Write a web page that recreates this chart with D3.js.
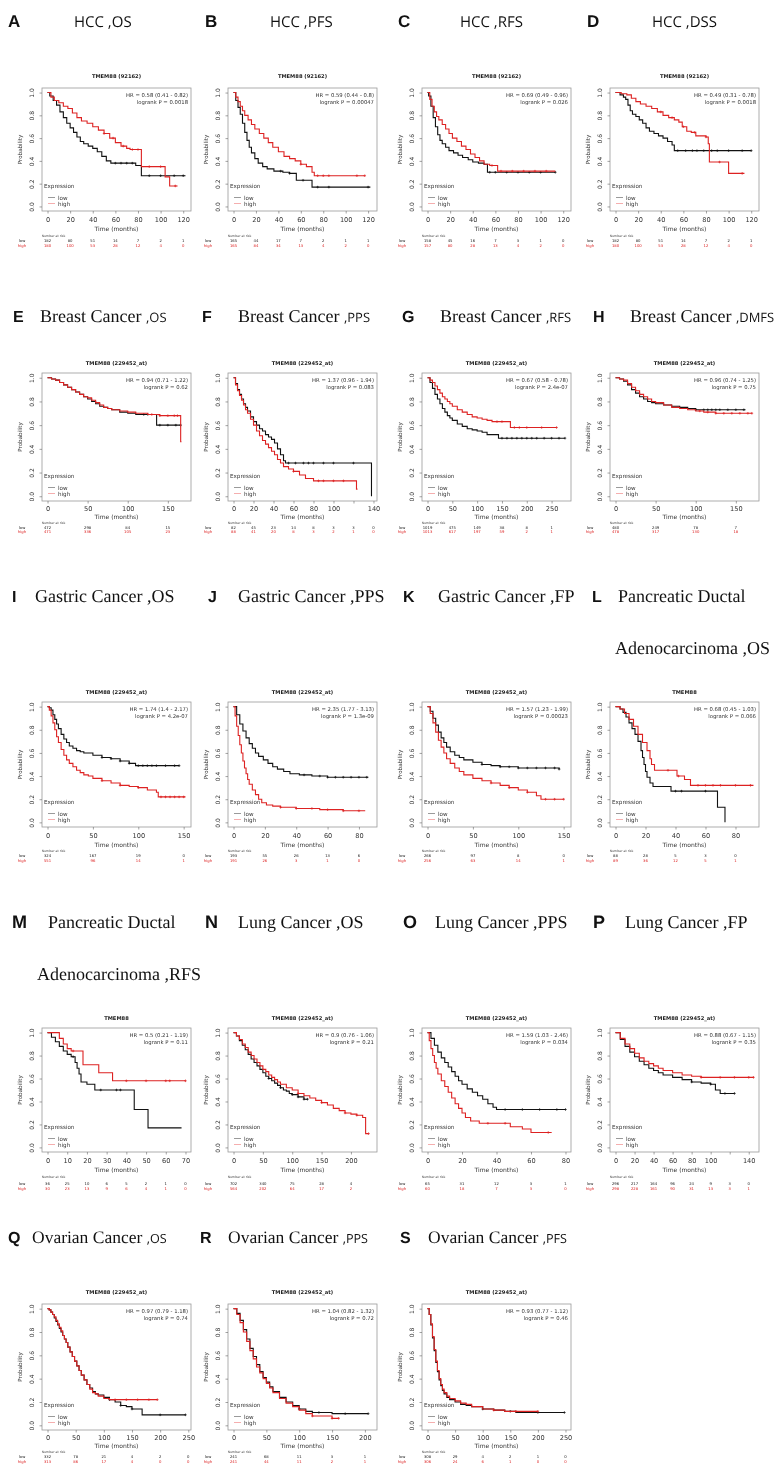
<!DOCTYPE html>
<html><head><meta charset="utf-8">
<script src="https://cdn.jsdelivr.net/npm/d3@7"></script>
<style>body{margin:0;background:#fff}svg{display:block;will-change:transform}text{text-rendering:geometricPrecision}</style>
</head><body>
<script>
const panelLetters=["A","B","C","D","E","F","G","H","I","J","K","L","M","N","O","P","Q","R","S"];
const panelTitles=[["HCC ,OS"],["HCC ,PFS"],["HCC ,RFS"],["HCC ,DSS"],
["Breast Cancer ,OS"],["Breast Cancer ,PPS"],["Breast Cancer ,RFS"],["Breast Cancer ,DMFS"],
["Gastric Cancer ,OS"],["Gastric Cancer ,PPS"],["Gastric Cancer ,FP"],["Pancreatic Ductal","Adenocarcinoma ,OS"],
["Pancreatic Ductal","Adenocarcinoma ,RFS"],["Lung Cancer ,OS"],["Lung Cancer ,PPS"],["Lung Cancer ,FP"],
["Ovarian Cancer ,OS"],["Ovarian Cancer ,PPS"],["Ovarian Cancer ,PFS"]];
const panelProbes=["TMEM88 (92162)","TMEM88 (92162)","TMEM88 (92162)","TMEM88 (92162)",
"TMEM88 (229452_at)","TMEM88 (229452_at)","TMEM88 (229452_at)","TMEM88 (229452_at)",
"TMEM88 (229452_at)","TMEM88 (229452_at)","TMEM88 (229452_at)","TMEM88",
"TMEM88","TMEM88 (229452_at)","TMEM88 (229452_at)","TMEM88 (229452_at)",
"TMEM88 (229452_at)","TMEM88 (229452_at)","TMEM88 (229452_at)"];
const hrLabels=["HR = 0.58 (0.41 - 0.82)","HR = 0.59 (0.44 - 0.8)","HR = 0.69 (0.49 - 0.96)","HR = 0.49 (0.31 - 0.78)",
"HR = 0.94 (0.71 - 1.22)","HR = 1.37 (0.96 - 1.94)","HR = 0.67 (0.58 - 0.78)","HR = 0.96 (0.74 - 1.25)",
"HR = 1.74 (1.4 - 2.17)","HR = 2.35 (1.77 - 3.13)","HR = 1.57 (1.23 - 1.99)","HR = 0.68 (0.45 - 1.03)",
"HR = 0.5 (0.21 - 1.19)","HR = 0.9 (0.76 - 1.06)","HR = 1.59 (1.03 - 2.46)","HR = 0.88 (0.67 - 1.15)",
"HR = 0.97 (0.79 - 1.18)","HR = 1.04 (0.82 - 1.32)","HR = 0.93 (0.77 - 1.12)"];
const pLabels=["logrank P = 0.0018","logrank P = 0.00047","logrank P = 0.026","logrank P = 0.0018",
"logrank P = 0.62","logrank P = 0.083","logrank P = 2.4e-07","logrank P = 0.75",
"logrank P = 4.2e-07","logrank P = 1.3e-09","logrank P = 0.00023","logrank P = 0.066",
"logrank P = 0.11","logrank P = 0.21","logrank P = 0.034","logrank P = 0.35",
"logrank P = 0.74","logrank P = 0.72","logrank P = 0.46"];
const xMax=[122,123,122,122,172,138,278,172,152,88,152,92,70,235,80,145,245,210,250];
const riskTimes=[
[0,20,40,60,80,100,120],[0,20,40,60,80,100,120],[0,20,40,60,80,100,120],[0,20,40,60,80,100,120],
[0,50,100,150],[0,20,40,60,80,100,120,140],[0,50,100,150,200,250],[0,50,100,150],
[0,50,100,150],[0,20,40,60,80],[0,50,100,150],[0,20,40,60,80],
[0,10,20,30,40,50,60,70],[0,50,100,150,200],[0,20,40,60,80],[0,20,40,60,80,100,120,140],
[0,50,100,150,200,250],[0,50,100,150,200],[0,50,100,150,200,250]];
const hiddenTickLabels=[[],[],[],[],[],[120],[],[],[],[],[],[],[],[],[],[120],[],[],[]];
const lowRisk=[
[182,80,51,14,7,2,1],[165,44,17,7,2,1,1],[158,45,16,7,3,1,0],[182,80,51,14,7,2,1],
[472,298,84,15],[82,45,23,14,8,3,3,0],[1019,475,149,38,8,1],[480,249,78,7],
[324,167,19,0],[193,55,26,13,6],[266,97,8,0],[88,28,5,3,0],
[36,25,10,6,5,2,1,0],[702,340,75,28,4],[65,31,12,3,1],[296,217,164,96,24,9,3,0],
[332,78,21,4,2,0],[241,68,11,3,1],[308,29,4,2,1,0]];
const highRisk=[
[180,100,53,28,12,4,0],[165,84,34,13,4,2,0],[157,80,28,13,4,2,0],[180,100,53,28,12,4,0],
[471,336,105,23],[88,41,20,8,3,2,1,0],[1013,617,197,59,2,1],[478,317,130,18],
[551,96,14,1],[191,26,3,1,0],[256,63,14,1],[89,36,12,5,1],
[30,23,13,9,6,4,1,0],[564,202,64,17,2],[60,18,7,3,0],[298,228,161,90,31,13,3,1],
[313,86,17,4,0,0],[241,44,11,2,1],[306,24,6,1,0,0]];
const lowCurves=[
[[0,1],[2,0.97],[5,0.93],[8,0.89],[11,0.83],[14,0.78],[17,0.73],[20,0.69],[23,0.65],[26,0.61],[29,0.57],[32,0.55],[36,0.53],[40,0.51],[44,0.48],[48,0.44],[52,0.40],[56,0.38],[78,0.36],[83,0.27],[122,0.27]],
[[0,1],[2,0.93],[4,0.87],[6,0.81],[8,0.73],[10,0.65],[12,0.58],[14,0.52],[16,0.47],[19,0.42],[22,0.38],[26,0.35],[30,0.33],[36,0.31],[44,0.30],[50,0.29],[56,0.23],[70,0.17],[122,0.17]],
[[0,1],[1,0.97],[3,0.88],[5,0.78],[7,0.70],[9,0.63],[11,0.58],[13,0.55],[16,0.52],[19,0.49],[23,0.47],[27,0.45],[31,0.43],[36,0.41],[40,0.39],[45,0.38],[50,0.37],[53,0.30],[113,0.30]],
[[0,1],[4,0.98],[7,0.96],[9,0.94],[11,0.89],[13,0.84],[15,0.81],[18,0.79],[21,0.76],[24,0.73],[27,0.69],[30,0.66],[34,0.64],[38,0.62],[42,0.60],[46,0.57],[50,0.54],[52,0.49],[120,0.49]],
[[0,1],[5,0.99],[10,0.98],[15,0.96],[20,0.94],[25,0.92],[30,0.90],[35,0.88],[40,0.86],[45,0.84],[50,0.82],[55,0.80],[60,0.78],[65,0.76],[70,0.75],[75,0.74],[80,0.73],[90,0.71],[100,0.70],[110,0.69],[134,0.69],[136,0.60],[166,0.60]],
[[0,1],[2,0.95],[4,0.90],[6,0.86],[8,0.82],[10,0.78],[12,0.75],[14,0.72],[17,0.67],[20,0.63],[23,0.60],[26,0.57],[29,0.55],[32,0.52],[35,0.50],[38,0.48],[41,0.45],[44,0.40],[47,0.35],[50,0.30],[52,0.28],[137,0.28],[138,0]],
[[0,1],[5,0.96],[10,0.91],[15,0.86],[20,0.82],[25,0.78],[30,0.74],[35,0.71],[40,0.68],[45,0.66],[50,0.64],[60,0.61],[70,0.59],[80,0.57],[90,0.56],[100,0.55],[110,0.54],[120,0.52],[130,0.52],[143,0.49],[277,0.49]],
[[0,1],[5,0.99],[10,0.97],[15,0.94],[20,0.90],[25,0.87],[30,0.84],[35,0.82],[40,0.80],[45,0.79],[50,0.78],[60,0.77],[70,0.76],[80,0.75],[90,0.74],[100,0.73],[162,0.73]],
[[0,1],[2,0.99],[4,0.97],[6,0.93],[8,0.89],[10,0.85],[12,0.81],[15,0.76],[18,0.72],[21,0.69],[24,0.66],[28,0.64],[32,0.62],[36,0.61],[40,0.60],[50,0.58],[60,0.56],[70,0.55],[80,0.53],[90,0.51],[97,0.49],[145,0.49]],
[[0,1],[2,0.93],[4,0.85],[6,0.79],[8,0.73],[10,0.68],[12,0.64],[14,0.60],[16,0.57],[19,0.54],[22,0.51],[25,0.48],[28,0.46],[32,0.44],[36,0.42],[42,0.41],[50,0.40],[60,0.39],[86,0.39]],
[[0,1],[3,0.96],[6,0.90],[9,0.84],[12,0.78],[15,0.73],[18,0.69],[21,0.65],[25,0.61],[30,0.58],[35,0.56],[40,0.54],[50,0.52],[60,0.50],[70,0.49],[80,0.48],[100,0.47],[145,0.46]],
[[0,1],[3,0.98],[5,0.95],[7,0.91],[9,0.86],[11,0.81],[13,0.76],[15,0.70],[17,0.62],[18,0.56],[19,0.50],[20,0.44],[21,0.39],[23,0.34],[25,0.31],[37,0.27],[67,0.27],[68,0.13],[72,0.13],[73,0.0]],
[[0,1],[2,0.96],[4,0.92],[6,0.88],[8,0.84],[10,0.81],[12,0.79],[14,0.74],[15,0.69],[16,0.64],[17,0.57],[20,0.55],[24,0.50],[43,0.50],[44,0.33],[50,0.33],[51,0.17],[68,0.17]],
[[0,1],[5,0.97],[10,0.93],[15,0.89],[20,0.85],[25,0.81],[30,0.77],[35,0.74],[40,0.71],[45,0.68],[50,0.65],[55,0.62],[60,0.60],[65,0.58],[70,0.56],[75,0.54],[80,0.52],[85,0.50],[90,0.49],[95,0.47],[100,0.46],[110,0.44],[120,0.42],[126,0.42]],
[[0,1],[2,0.95],[4,0.89],[6,0.83],[8,0.78],[10,0.74],[12,0.70],[14,0.66],[16,0.62],[18,0.58],[20,0.55],[23,0.51],[26,0.48],[29,0.45],[32,0.42],[35,0.38],[38,0.35],[40,0.33],[80,0.33]],
[[0,1],[5,0.94],[10,0.88],[15,0.83],[20,0.79],[25,0.75],[30,0.72],[35,0.69],[40,0.67],[45,0.65],[50,0.63],[60,0.61],[70,0.59],[80,0.57],[90,0.56],[100,0.55],[105,0.50],[110,0.47],[125,0.47]],
[[0,1],[3,0.99],[6,0.97],[9,0.95],[12,0.92],[15,0.89],[18,0.86],[21,0.83],[24,0.80],[27,0.77],[30,0.74],[33,0.71],[36,0.67],[40,0.63],[44,0.59],[48,0.55],[52,0.51],[56,0.47],[60,0.43],[65,0.39],[70,0.35],[75,0.32],[80,0.29],[85,0.27],[90,0.26],[100,0.24],[110,0.22],[120,0.20],[130,0.17],[140,0.16],[150,0.14],[168,0.09],[245,0.09]],
[[0,1],[5,0.96],[10,0.90],[15,0.82],[20,0.74],[25,0.66],[30,0.59],[35,0.52],[40,0.46],[45,0.41],[50,0.37],[55,0.33],[60,0.29],[70,0.24],[80,0.20],[90,0.17],[100,0.14],[110,0.12],[120,0.11],[150,0.10],[205,0.10]],
[[0,1],[3,0.95],[6,0.86],[9,0.75],[12,0.64],[15,0.54],[18,0.46],[21,0.39],[24,0.34],[27,0.30],[30,0.27],[35,0.24],[40,0.22],[50,0.20],[60,0.18],[70,0.17],[80,0.16],[100,0.14],[120,0.13],[140,0.12],[160,0.11],[248,0.11]]];
const highCurves=[
[[0,1],[3,0.96],[6,0.93],[10,0.91],[14,0.88],[18,0.86],[22,0.82],[26,0.78],[30,0.75],[35,0.73],[40,0.70],[45,0.67],[50,0.64],[55,0.60],[60,0.56],[65,0.53],[70,0.51],[73,0.50],[83,0.35],[104,0.26],[108,0.18],[115,0.18]],
[[0,1],[2,0.96],[4,0.92],[6,0.88],[8,0.84],[10,0.80],[13,0.76],[16,0.72],[19,0.68],[23,0.64],[27,0.60],[31,0.56],[35,0.52],[40,0.48],[45,0.44],[50,0.42],[55,0.40],[60,0.37],[65,0.35],[70,0.30],[72,0.27],[117,0.27]],
[[0,1],[2,0.94],[4,0.88],[6,0.83],[8,0.79],[10,0.76],[13,0.72],[16,0.68],[19,0.64],[22,0.60],[26,0.57],[30,0.53],[34,0.50],[38,0.46],[42,0.43],[46,0.40],[50,0.37],[55,0.36],[62,0.31],[113,0.31]],
[[0,1],[5,0.99],[10,0.98],[14,0.95],[18,0.92],[22,0.90],[27,0.88],[32,0.86],[37,0.83],[42,0.80],[47,0.78],[52,0.76],[56,0.74],[59,0.70],[63,0.66],[67,0.65],[71,0.62],[80,0.61],[82,0.55],[83,0.39],[100,0.29],[114,0.29]],
[[0,1],[5,0.99],[10,0.98],[15,0.96],[20,0.94],[25,0.92],[30,0.90],[35,0.88],[40,0.86],[45,0.84],[50,0.83],[55,0.81],[60,0.79],[65,0.77],[70,0.75],[75,0.74],[80,0.73],[90,0.72],[100,0.71],[110,0.70],[125,0.69],[140,0.68],[166,0.46],[167,0.46]],
[[0,1],[2,0.94],[4,0.89],[6,0.85],[8,0.81],[10,0.77],[12,0.73],[14,0.70],[17,0.65],[20,0.60],[23,0.55],[26,0.51],[29,0.47],[32,0.44],[35,0.41],[38,0.38],[41,0.35],[44,0.31],[47,0.28],[50,0.25],[55,0.23],[60,0.21],[66,0.18],[72,0.15],[80,0.13],[122,0.13],[123,0.06],[124,0.06]],
[[0,1],[5,0.98],[10,0.96],[15,0.93],[20,0.90],[25,0.87],[30,0.84],[35,0.82],[40,0.80],[45,0.78],[50,0.76],[60,0.73],[70,0.71],[80,0.69],[90,0.67],[100,0.66],[110,0.65],[120,0.64],[130,0.63],[167,0.58],[260,0.58]],
[[0,1],[5,0.99],[10,0.98],[15,0.95],[20,0.92],[25,0.89],[30,0.86],[35,0.84],[40,0.82],[45,0.80],[50,0.79],[60,0.77],[70,0.75],[80,0.74],[90,0.73],[100,0.72],[110,0.71],[125,0.70],[170,0.70]],
[[0,1],[2,0.97],[4,0.92],[6,0.86],[8,0.80],[10,0.74],[12,0.69],[15,0.63],[18,0.58],[21,0.54],[24,0.51],[28,0.48],[32,0.45],[36,0.43],[40,0.41],[45,0.40],[50,0.38],[60,0.36],[70,0.34],[80,0.32],[90,0.31],[100,0.30],[110,0.28],[120,0.26],[122,0.22],[152,0.22]],
[[0,1],[1,0.92],[2,0.83],[3,0.75],[4,0.67],[5,0.60],[6,0.53],[7,0.47],[8,0.42],[9,0.37],[10,0.33],[12,0.28],[14,0.24],[16,0.20],[18,0.17],[21,0.15],[25,0.14],[30,0.13],[40,0.12],[55,0.11],[70,0.10],[84,0.10]],
[[0,1],[3,0.94],[6,0.86],[9,0.78],[12,0.71],[15,0.65],[18,0.60],[21,0.55],[25,0.51],[30,0.47],[35,0.44],[40,0.41],[50,0.38],[60,0.36],[70,0.34],[80,0.32],[90,0.30],[100,0.28],[110,0.26],[120,0.23],[125,0.20],[150,0.20]],
[[0,1],[3,0.98],[6,0.94],[9,0.89],[12,0.83],[15,0.76],[18,0.69],[21,0.62],[23,0.55],[24,0.50],[26,0.45],[38,0.45],[41,0.40],[46,0.37],[50,0.32],[92,0.32]],
[[0,1],[6,0.95],[8,0.90],[10,0.86],[12,0.84],[18,0.72],[26,0.65],[33,0.58],[70,0.58]],
[[0,1],[5,0.97],[10,0.94],[15,0.90],[20,0.87],[25,0.83],[30,0.80],[35,0.77],[40,0.74],[45,0.71],[50,0.68],[55,0.66],[60,0.63],[65,0.61],[70,0.59],[75,0.57],[80,0.55],[90,0.52],[100,0.50],[110,0.47],[120,0.45],[130,0.43],[140,0.41],[150,0.39],[160,0.37],[170,0.34],[180,0.32],[190,0.30],[200,0.29],[210,0.28],[220,0.26],[225,0.12],[230,0.12]],
[[0,1],[1,0.93],[2,0.86],[3,0.80],[4,0.74],[5,0.69],[6,0.64],[8,0.58],[10,0.53],[12,0.48],[14,0.43],[16,0.38],[18,0.34],[20,0.30],[22,0.26],[25,0.23],[30,0.21],[40,0.21],[48,0.18],[55,0.16],[60,0.13],[72,0.13]],
[[0,1],[5,0.95],[10,0.90],[15,0.86],[20,0.82],[25,0.78],[30,0.75],[35,0.73],[40,0.71],[45,0.69],[50,0.67],[60,0.65],[70,0.63],[80,0.62],[90,0.61],[100,0.61],[145,0.61]],
[[0,1],[3,0.99],[6,0.97],[9,0.95],[12,0.93],[15,0.90],[18,0.87],[21,0.84],[24,0.81],[27,0.77],[30,0.74],[33,0.71],[36,0.67],[40,0.63],[44,0.59],[48,0.55],[52,0.51],[56,0.47],[60,0.43],[65,0.39],[70,0.35],[75,0.31],[80,0.28],[85,0.27],[90,0.25],[100,0.23],[110,0.22],[120,0.22],[195,0.22]],
[[0,1],[5,0.95],[10,0.88],[15,0.80],[20,0.72],[25,0.64],[30,0.57],[35,0.50],[40,0.45],[45,0.40],[50,0.36],[55,0.32],[60,0.28],[70,0.23],[80,0.19],[90,0.16],[100,0.13],[110,0.10],[120,0.08],[150,0.06],[160,0.06]],
[[0,1],[3,0.95],[6,0.87],[9,0.76],[12,0.65],[15,0.55],[18,0.47],[21,0.40],[24,0.35],[27,0.31],[30,0.28],[35,0.25],[40,0.23],[50,0.21],[60,0.19],[70,0.18],[80,0.16],[100,0.14],[120,0.13],[140,0.12],[160,0.12],[200,0.12]]];
const lowCensor=[[60,65,70,75,90,100,112,120],[42,50,62,75,85,120],[55,60,70,80,90,100,113],[55,62,68,72,78,85,90,100,112,120],
[120,125,140,150,160,166],[55,62,70,75,80,90,100,120],[150,160,170,180,190,200,210,220,235,250,265,277],[100,110,115,120,125,130,140,150,160],
[60,70,80,90,100,105,110,115,120,130,140,145],[45,55,60,65,70,75,80,85],[60,80,90,100,110,120,130,140,145],[40,44,60],
[13,27,35,37],[60,80,100,110,120,126],[45,55,65,75,80],[80,100,115,125],
[110,130,150,200,245],[100,130,170,205],[100,150,200,248]];
const highCensor=[[50,58,67,75,80,90,100,113],[60,75,80,85,110,117],[57,65,75,85,95,105],[40,50,60,70,80,92,112],
[130,140,150,158,162],[60,85,90,100,110],[140,150,175,185,200,230,260],[105,115,125,135,145,155,165,170],
[60,80,100,125,130,135,140,145,150],[30,40,50,60,70,80],[70,90,110,130,140,150],[35,42,55,60,65,70,80,90],
[13,40,50,60,62,70],[110,150,190,210,230],[35,45,70],[90,110,125,140,145],
[120,140,160,180,195],[120,150,160],[120,160,200]];

// ----- layout -----
const W=782,H=1469;
const colLeft=[42,228,422,610], boxW=149;
const rows=[
 {top:88,bottom:211,ptitle:78,xlab:222,time:231,nar:237,low:242,high:247,head:[27,null],
  letterX:[8,205,398,587],titleX:[74,270,460,652],font:"'Open Sans', sans-serif",fs:15,lfs:17,smallSuffix:false},
 {top:373,bottom:501,ptitle:365,xlab:511,time:519,nar:524,low:529,high:533,head:[322,null],
  letterX:[13,202,402,593],titleX:[40,238,440,630],font:"'Liberation Serif', serif",fs:18,lfs:16,smallSuffix:true},
 {top:702,bottom:827,ptitle:694,xlab:838,time:847,nar:852,low:857,high:862,head:[602,654],
  letterX:[12,208,403,592],titleX:[35,238,438,618],title2X:[0,0,0,615],font:"'Liberation Serif', serif",fs:18,lfs:16,smallSuffix:false},
 {top:1028,bottom:1152,ptitle:1020,xlab:1163,time:1172,nar:1178,low:1185,high:1190,head:[928,980],
  letterX:[12,205,403,593],titleX:[48,238,435,625],title2X:[37,0,0,0],font:"'Liberation Serif', serif",fs:18,lfs:18,smallSuffix:false},
 {top:1304,bottom:1430,ptitle:1294,xlab:1440,time:1448,nar:1453,low:1458,high:1463,head:[1243,null],
  letterX:[8,200,400],titleX:[32,228,428],font:"'Liberation Serif', serif",fs:17.5,lfs:16,smallSuffix:true}
];
const RED="#dd2222", LOW="#111";

const svg=d3.select("body").append("svg").attr("width",W).attr("height",H);
svg.append("rect").attr("width",W).attr("height",H).attr("fill","#fff");

function stepAt(curve,t){let s=curve[0][1];for(const p of curve){if(p[0]<=t)s=p[1];else break;}return s;}

panelLetters.forEach((letter,i)=>{
  const r=Math.floor(i/4), c=i%4, R=rows[r];
  const g=svg.append("g");
  g.append("text").attr("x",R.letterX[c]).attr("y",R.head[0]).text(letter)
    .attr("font-family","'Liberation Sans', Arial, sans-serif").attr("font-weight","bold")
    .attr("font-size",R.lfs).attr("fill","#111");
  const tl=panelTitles[i];
  const t1=g.append("text").attr("x",R.titleX[c]).attr("y",R.head[0])
    .attr("font-family",R.font).attr("font-size",R.fs).attr("fill","#111");
  if(R.smallSuffix){
    const k=tl[0].indexOf(",");
    t1.append("tspan").text(tl[0].slice(0,k));
    t1.append("tspan").attr("font-family","'Open Sans', sans-serif").attr("font-size",R.fs*0.72).text(tl[0].slice(k));
  } else t1.text(tl[0]);
  if(tl[1]) g.append("text").attr("x",R.title2X[c]).attr("y",R.head[1]).text(tl[1])
    .attr("font-family",R.font).attr("font-size",R.fs).attr("fill","#111");

  const left=colLeft[c], right=left+boxW;
  const x=d3.scaleLinear().domain([-0.04*xMax[i],1.04*xMax[i]]).range([left,right]);
  const y=d3.scaleLinear().domain([-0.04,1.04]).range([R.bottom,R.top]);
  const cx=(left+right)/2;
  g.append("text").attr("x",cx).attr("y",R.ptitle).attr("text-anchor","middle")
    .attr("font-family","'DejaVu Sans', sans-serif").attr("font-weight","bold").attr("font-size",5.2)
    .attr("fill","#222").text(panelProbes[i]);
  g.append("rect").attr("x",left).attr("y",R.top).attr("width",boxW).attr("height",R.bottom-R.top)
    .attr("fill","none").attr("stroke","#999").attr("stroke-width",0.8);

  const hide=hiddenTickLabels[i];
  const xa=g.append("g").attr("transform",`translate(0,${R.bottom})`)
    .call(d3.axisBottom(x).tickValues(riskTimes[i]).tickSize(2.5).tickPadding(1.5)
      .tickFormat(d=>hide.includes(d)?"":d3.format("d")(d)));
  xa.select(".domain").remove();
  xa.selectAll("text").attr("font-family","'DejaVu Sans', sans-serif").attr("font-size",6.6).attr("fill","#333")
    .attr("y",null).attr("dy",null).attr("transform",`translate(0,${R.xlab-R.bottom})`);
  xa.selectAll("line").attr("stroke","#666").attr("stroke-width",0.6);
  const ya=g.append("g").attr("transform",`translate(${left},0)`)
    .call(d3.axisLeft(y).tickValues([0,0.2,0.4,0.6,0.8,1]).tickSize(2.5).tickFormat(d3.format(".1f")));
  ya.select(".domain").remove();
  ya.selectAll("line").attr("stroke","#666").attr("stroke-width",0.6);
  ya.selectAll("text").attr("font-family","'DejaVu Sans', sans-serif").attr("font-size",6).attr("fill","#333")
    .attr("x",null).attr("dy",null).attr("text-anchor","middle")
    .attr("transform","translate(-8,0) rotate(-90)");
  g.append("text").attr("transform",`translate(${left-20},${y(0.5)}) rotate(-90)`)
    .attr("text-anchor","middle").attr("font-family","'DejaVu Sans', sans-serif").attr("font-size",5.6)
    .attr("fill","#333").text("Probability");
  g.append("text").attr("x",cx).attr("y",R.time).attr("text-anchor","middle")
    .attr("font-family","'DejaVu Sans', sans-serif").attr("font-size",6).attr("fill","#333").text("Time (months)");

  g.append("text").attr("x",right-3).attr("y",R.top+9).attr("text-anchor","end")
    .attr("font-family","'DejaVu Sans', sans-serif").attr("font-size",5.3).attr("fill","#333").text(hrLabels[i]);
  g.append("text").attr("x",right-3).attr("y",R.top+15.5).attr("text-anchor","end")
    .attr("font-family","'DejaVu Sans', sans-serif").attr("font-size",5.3).attr("fill","#333").text(pLabels[i]);

  const lg=g.append("g").attr("font-family","'DejaVu Sans', sans-serif").attr("font-size",5.6).attr("fill","#333");
  lg.append("text").attr("x",left+2).attr("y",R.bottom-23).text("Expression");
  lg.append("line").attr("x1",left+6).attr("x2",left+13).attr("y1",R.bottom-13.5).attr("y2",R.bottom-13.5).attr("stroke","#555").attr("stroke-width",0.6);
  lg.append("text").attr("x",left+16).attr("y",R.bottom-11.5).text("low");
  lg.append("line").attr("x1",left+6).attr("x2",left+13).attr("y1",R.bottom-7.5).attr("y2",R.bottom-7.5).attr("stroke","#e77").attr("stroke-width",0.6);
  lg.append("text").attr("x",left+16).attr("y",R.bottom-5.5).text("high");

  const line=d3.line().x(d=>x(d[0])).y(d=>y(d[1])).curve(d3.curveStepAfter);
  [[lowCurves[i],lowCensor[i],LOW],[highCurves[i],highCensor[i],RED]].forEach(([cv,cs,col])=>{
    g.append("path").attr("d",line(cv)).attr("fill","none").attr("stroke",col).attr("stroke-width",1.1);
    cs.forEach(t=>{
      const px=x(t), py=y(stepAt(cv,t));
      g.append("path").attr("d",`M${px-1.3},${py}H${px+1.3}M${px},${py-1.3}V${py+1.3}`)
        .attr("stroke",col).attr("stroke-width",0.7);
    });
  });

  const rt=g.append("g").attr("font-family","'DejaVu Sans', sans-serif").attr("font-size",3.8).attr("text-anchor","middle");
  rt.append("text").attr("x",x(0)+6).attr("y",R.nar).attr("fill","#444").attr("font-size",3.2).text("Number at risk");
  rt.append("text").attr("x",left-20).attr("y",R.low).attr("fill","#222").text("low");
  rt.append("text").attr("x",left-20).attr("y",R.high).attr("fill",RED).text("high");
  riskTimes[i].forEach((t,k)=>{
    rt.append("text").attr("x",x(t)).attr("y",R.low).attr("fill","#222").text(lowRisk[i][k]);
    rt.append("text").attr("x",x(t)).attr("y",R.high).attr("fill",RED).text(highRisk[i][k]);
  });
});
</script>
</body></html>
